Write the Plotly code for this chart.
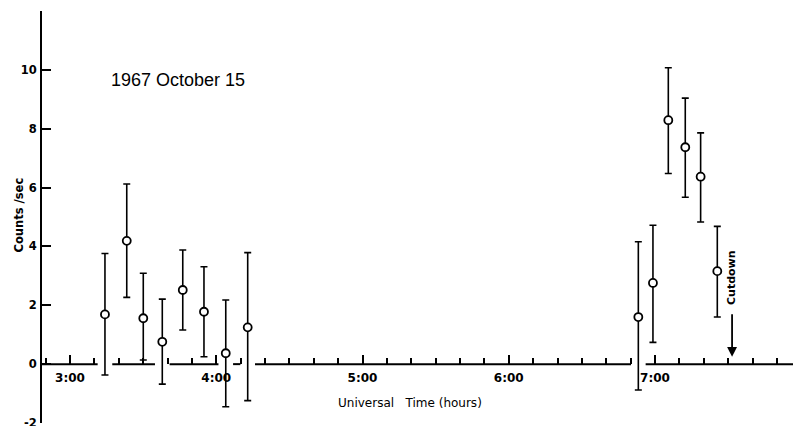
import plotly.graph_objects as go

# Universal time of each integration (decimal hours) and the measured rate
ut_hours = [3.239, 3.388, 3.501, 3.631, 3.771, 3.916, 4.065, 4.215,
            6.886, 6.986, 7.091, 7.207, 7.312, 7.426]
counts = [1.69, 4.19, 1.56, 0.76, 2.52, 1.78, 0.37, 1.25,
          1.60, 2.76, 8.29, 7.37, 6.37, 3.16]
upper = [3.76, 6.12, 3.09, 2.21, 3.88, 3.31, 2.18, 3.79,
         4.16, 4.72, 10.07, 9.04, 7.86, 4.68]
lower = [-0.37, 2.27, 0.14, -0.68, 1.16, 0.25, -1.45, -1.24,
         -0.88, 0.74, 6.48, 5.67, 4.83, 1.60]

hour_ticks = [3, 4, 5, 6, 7]
hour_labels = ["3:00", "4:00", "5:00", "6:00", "7:00"]
rate_ticks = [-2, 0, 2, 4, 6, 8, 10, 12]
rate_labels = ["-2", "0", "2", "4", "6", "8", "10", ""]

cutdown_hour = 7.527

X_RANGE = [2.8085, 7.9436]
Y_RANGE = [-2, 12]
Y_DOMAIN = [3 / 426, 415 / 426]
INK = "black"
FONT = "DejaVu Sans"

# zero line is interrupted wherever an error bar crosses it
gap = 0.05
base_x, base_y = [X_RANGE[0]], [0]
for t, lo in zip(ut_hours, lower):
    if lo < 0:
        base_x += [t - gap, None, t + gap]
        base_y += [0, None, 0]
base_x.append(X_RANGE[1])
base_y.append(0)

fig = go.Figure()
fig.add_trace(go.Scatter(
    x=base_x, y=base_y, mode="lines",
    line=dict(color=INK, width=2), hoverinfo="skip", showlegend=False,
))
fig.add_trace(go.Scatter(
    x=ut_hours, y=counts, mode="markers",
    marker=dict(symbol="circle", size=8, color="white",
                line=dict(color=INK, width=1.8)),
    error_y=dict(type="data", symmetric=False,
                 array=[u - c for u, c in zip(upper, counts)],
                 arrayminus=[c - l for c, l in zip(counts, lower)],
                 color=INK, thickness=1.6, width=3.5),
    showlegend=False,
))

zero_pos = Y_DOMAIN[0] + (0 - Y_RANGE[0]) / (Y_RANGE[1] - Y_RANGE[0]) * (Y_DOMAIN[1] - Y_DOMAIN[0])

fig.update_layout(
    width=793, height=426,
    margin=dict(l=0, r=0, t=0, b=0, autoexpand=False),
    paper_bgcolor="white", plot_bgcolor="white",
    xaxis=dict(
        domain=[42 / 793, 1], range=X_RANGE, anchor="free", position=zero_pos,
        automargin=False,
        showline=False, showgrid=False, zeroline=False,
        tickmode="array", tickvals=hour_ticks, ticktext=hour_labels,
        ticks="inside", ticklen=9, tickwidth=1.6, tickcolor=INK,
        tickfont=dict(family=FONT, size=12, color=INK, weight="bold"),
        ticklabelstandoff=5,
        minor=dict(tick0=3, dtick=1 / 6, ticks="inside", ticklen=6,
                   tickwidth=1.6, tickcolor=INK, showgrid=False),
    ),
    yaxis=dict(
        domain=Y_DOMAIN, range=Y_RANGE, automargin=False,
        showline=True, linecolor=INK, linewidth=2,
        showgrid=False, zeroline=False,
        tickmode="array", tickvals=rate_ticks, ticktext=rate_labels,
        ticks="inside", ticklen=9, tickwidth=1.6, tickcolor=INK,
        tickfont=dict(family=FONT, size=11.5, color=INK, weight="bold"),
        ticklabelstandoff=1, ticklabeloverflow="allow",
    ),
    annotations=[
        dict(x=18.5 / 793, y=(426 - 215) / 426, xref="paper", yref="paper",
             text="Counts /sec", textangle=-90, showarrow=False,
             xanchor="center", yanchor="middle",
             font=dict(family=FONT, size=11.5, color=INK, weight="bold")),
        dict(x=3.735, y=9.64, xref="x", yref="y", text="1967 October 15",
             showarrow=False, font=dict(family="Liberation Sans", size=18, color=INK)),
        dict(x=410 / 793, y=(426 - 403) / 426, xref="paper", yref="paper",
             xanchor="center", yanchor="middle",
             text="Universal\u00a0\u00a0 Time (hours)", showarrow=False,
             font=dict(family=FONT, size=12, color=INK)),
        dict(x=cutdown_hour, y=2.93, xref="x", yref="y", text="Cutdown",
             textangle=-90, showarrow=False,
             font=dict(family=FONT, size=11, color=INK, weight="bold")),
        dict(x=cutdown_hour, y=0.25, ax=cutdown_hour, ay=1.75,
             xref="x", yref="y", axref="x", ayref="y", text="",
             showarrow=True, arrowhead=2, arrowsize=1.1, arrowwidth=1.8,
             arrowcolor=INK),
    ],
)

fig.write_html("out.html")
